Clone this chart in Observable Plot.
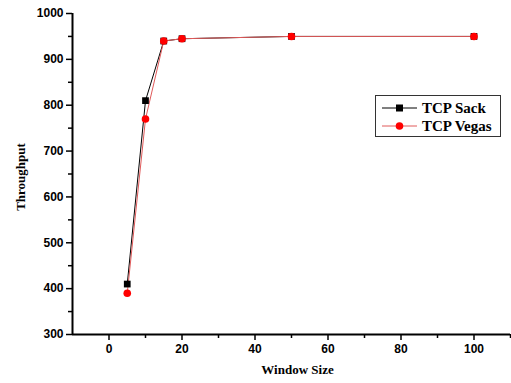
<!DOCTYPE html>
<html>
<head>
<meta charset="utf-8">
<script src="https://cdn.jsdelivr.net/npm/d3@7"></script>
<script src="https://cdn.jsdelivr.net/npm/@observablehq/plot@0.6"></script>
<style>
  html, body { margin: 0; padding: 0; background: #fff; }
  #wrap { position: relative; width: 511px; height: 383px; }
  #legend { position: absolute; left: 375px; top: 95px; width: 126px; height: 42px; border: 1px solid #333; background: #fff;
    font-family: "Liberation Serif", "Times New Roman", serif; font-weight: bold; font-size: 15px; box-sizing: border-box; }
  .row { position: absolute; left: 0; height: 18px; display: flex; align-items: center; }
  .row svg { display: block; }
  .row span { margin-left: 5px; }
</style>
</head>
<body>
<div id="wrap"></div>
<script>
const windowSize = [5, 10, 15, 20, 50, 100];
const tcpSack = [410, 810, 940, 945, 950, 950];
const tcpVegas = [390, 770, 940, 945, 950, 950];
const xMajor = [0, 20, 40, 60, 80, 100];
const xMinor = [10, 30, 50, 70, 90, 110];
const yMajor = [300, 400, 500, 600, 700, 800, 900, 1000];
const yMinor = [350, 450, 550, 650, 750, 850, 950];

const sack = windowSize.map((x, i) => ({x, y: tcpSack[i]}));
const vegas = windowSize.map((x, i) => ({x, y: tcpVegas[i]}));

const tickFont = {fontFamily: "'Liberation Sans', Arial, sans-serif", fontWeight: "bold", fontSize: 12};
const fmt = d => String(d);

const chart = Plot.plot({
  width: 511,
  height: 383,
  marginLeft: 72,
  marginRight: 1,
  marginTop: 13,
  marginBottom: 49,
  style: {background: "#fff", color: "#000", overflow: "visible"},
  x: {domain: [-10, 110]},
  y: {domain: [300, 1000]},
  marks: [
    Plot.axisX({ticks: xMajor, tickFormat: fmt, tickSize: 6, tickPadding: 4, label: null, ...tickFont, strokeWidth: 1.5}),
    Plot.axisX({ticks: xMinor, tickSize: 4, text: null, label: null, strokeWidth: 1.5}),
    Plot.axisY({ticks: yMajor, tickFormat: fmt, tickSize: 6, tickPadding: 3, label: null, ...tickFont, strokeWidth: 1.5}),
    Plot.axisY({ticks: yMinor, tickSize: 4, text: null, label: null, strokeWidth: 1.5}),
    Plot.ruleX([-10], {stroke: "#000", strokeWidth: 2}),
    Plot.ruleY([300], {stroke: "#000", strokeWidth: 2}),
    Plot.lineY(sack, {x: "x", y: "y", stroke: "#000", strokeWidth: 1}),
    Plot.lineY(vegas, {x: "x", y: "y", stroke: "#e05a5a", strokeWidth: 1}),
    Plot.dot(sack, {x: "x", y: "y", symbol: "square", r: 3.8, fill: "#000", stroke: "none"}),
    Plot.dot(vegas, {x: "x", y: "y", symbol: "circle", r: 3.8, fill: "#ff0000", stroke: "none"}),
    Plot.text(["Throughput"], {frameAnchor: "left", textAnchor: "middle", dx: -52, dy: 3, rotate: -90,
      fontFamily: "'Liberation Serif', 'Times New Roman', serif", fontWeight: "bold", fontSize: 13, fill: "#000"}),
    Plot.text(["Window Size"], {frameAnchor: "bottom", dx: 6, dy: 39,
      fontFamily: "'Liberation Serif', 'Times New Roman', serif", fontWeight: "bold", fontSize: 13, fill: "#000"})
  ]
});
const wrap = document.getElementById("wrap");
wrap.appendChild(chart);

const legend = document.createElement("div");
legend.id = "legend";
legend.innerHTML = `
  <div class="row" style="top:3px;left:6px">
    <svg width="35" height="10"><line x1="0" y1="5" x2="35" y2="5" stroke="#000" stroke-width="1"/><rect x="14" y="1.5" width="7" height="7" fill="#000"/></svg>
    <span>TCP Sack</span>
  </div>
  <div class="row" style="top:21px;left:6px">
    <svg width="35" height="10"><line x1="0" y1="5" x2="35" y2="5" stroke="#e05a5a" stroke-width="1"/><circle cx="17.5" cy="5" r="3.8" fill="#ff0000"/></svg>
    <span>TCP Vegas</span>
  </div>`;
wrap.appendChild(legend);
</script>
</body>
</html>
